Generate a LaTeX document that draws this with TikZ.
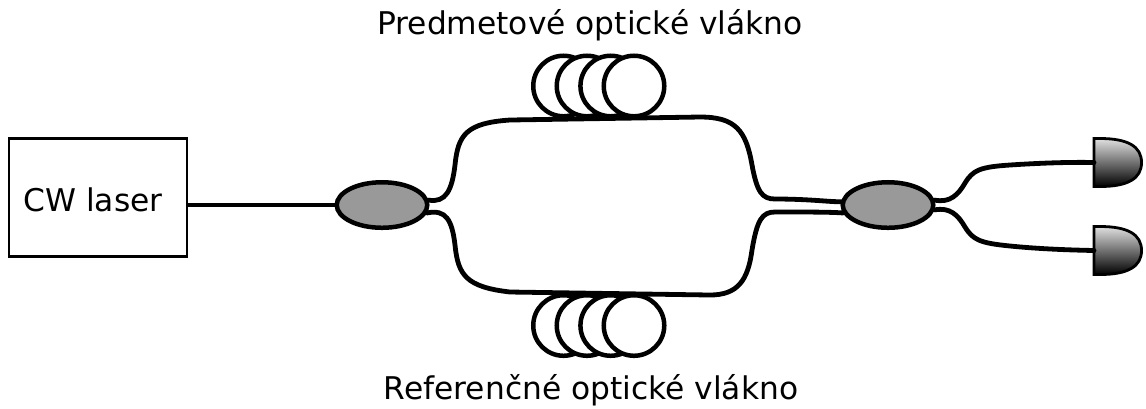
\documentclass[tikz,border=0pt]{standalone}
\usepackage{fontspec}
\setmainfont{DejaVu Sans}
\usetikzlibrary{shapes.geometric}
\begin{document}
\begin{tikzpicture}[x=0.01cm,y=-0.01cm,
		fibre/.style={line width=0.048cm,line cap=round},
		coupler/.style={ellipse,draw,line width=0.045cm,fill=black!40,minimum width=0.905cm,minimum height=0.455cm,inner sep=0pt},
		coil/.style={circle,draw,line width=0.045cm,fill=white,minimum size=0.605cm,inner sep=0pt},
		detector/.style={draw,line width=0.028cm,top color=black!12,bottom color=black},
		labeltext/.style={font=\fontsize{8.9pt}{10pt}\selectfont}]
	\useasboundingbox (0,0) rectangle (1146,408);
	\node[draw,line width=0.028cm,minimum width=1.78cm,minimum height=1.185cm,inner sep=0pt] (laser) at (98,197.5) {};
	\node[labeltext] (lasertext) at (93,200) {CW laser};
	\node[coupler] (split) at (382,205) {};
	\node[coupler] (merge) at (888,205) {};
	\node[labeltext] (toptext) at (590,25) {Predmetové optické vlákno};
	\node[labeltext] (bottext) at (591,390) {Referenčné optické vlákno};
	% cievky
	\foreach \i/\x in {1/563.5,2/587,3/610.7,4/634}{
		\node[coil] (topcoil\i) at (\x,86) {};
		\node[coil] (botcoil\i) at (\x,325.5) {};
	}
	% detektory
	\foreach \n/\y in {A/162.5,B/250.5}{
		\coordinate (det\n) at (1094,\y);
		\draw[detector] (det\n) ++(0,-24) -- ++(6,0) .. controls +(28,0) and +(0,-16) .. ++(41.5,24) .. controls +(0,16) and +(28,0) .. ++(-41.5,24) -- ++(-6,0) -- cycle;
	}
	\draw[fibre] (laser.east |- split.west) -- (split.west);
	\draw[fibre] (split.6) .. controls (446,203) and (452,190) .. (455,165) .. controls (458,135) and (466,123) .. (510,120) -- (700,117) .. controls (735,117) and (746,130) .. (752,165) .. controls (757,192) and (762,199) .. (775,199) .. controls (810,199) and (830,202) .. (merge.176);
	\draw[fibre] (split.-10) .. controls (446,209) and (452,220) .. (455,245) .. controls (458,275) and (466,287) .. (510,292) -- (710,295) .. controls (738,295) and (748,280) .. (752,250) .. controls (757,220) and (762,212) .. (775,212) .. controls (810,212) and (830,212) .. (merge.190);
	\draw[fibre] (merge.6) .. controls (950,203) and (958,195) .. (965,183) .. controls (973,170) and (980,167) .. (1010,165) .. controls (1040,163) and (1070,162) .. (detA);
	\draw[fibre] (merge.-6) .. controls (950,207) and (958,215) .. (965,227) .. controls (973,240) and (980,243) .. (1010,246) .. controls (1040,249) and (1070,250) .. (detB);
\end{tikzpicture}
\end{document}
